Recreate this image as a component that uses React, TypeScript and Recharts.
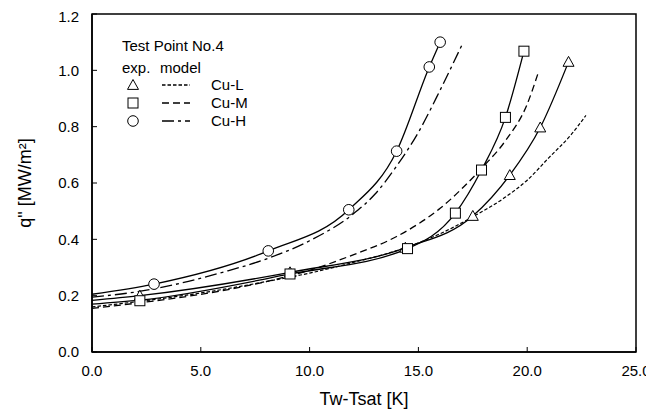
import React from 'react';
import {
  ComposedChart, Line, Scatter, XAxis, YAxis, ReferenceArea, Customized,
} from 'recharts';

const xTicks = [0, 5, 10, 15, 20, 25];
const yTicks = [0, 0.2, 0.4, 0.6, 0.8, 1.0, 1.2];

// experimental points
const cuLExp = [
  { x: 2.2, y: 0.2 }, { x: 9.1, y: 0.283 }, { x: 14.4, y: 0.37 },
  { x: 17.5, y: 0.483 }, { x: 19.2, y: 0.628 }, { x: 20.6, y: 0.797 }, { x: 21.9, y: 1.03 },
];
const cuMExp = [
  { x: 2.2, y: 0.182 }, { x: 9.1, y: 0.277 }, { x: 14.5, y: 0.367 },
  { x: 16.7, y: 0.493 }, { x: 17.9, y: 0.646 }, { x: 19.0, y: 0.833 }, { x: 19.85, y: 1.068 },
];
const cuHExp = [
  { x: 2.85, y: 0.241 }, { x: 8.1, y: 0.359 }, { x: 11.8, y: 0.505 },
  { x: 14.0, y: 0.713 }, { x: 15.5, y: 1.012 }, { x: 16.0, y: 1.1 },
];

// experimental fit curves (solid)
const cuLFit = [
  { x: 0, y: 0.183 }, { x: 2.2, y: 0.2 }, { x: 9.1, y: 0.283 }, { x: 14.4, y: 0.37 },
  { x: 17.5, y: 0.483 }, { x: 19.2, y: 0.628 }, { x: 20.6, y: 0.797 }, { x: 21.9, y: 1.03 },
];
const cuMFit = [
  { x: 0, y: 0.17 }, { x: 2.2, y: 0.184 }, { x: 9.1, y: 0.277 }, { x: 14.5, y: 0.367 },
  { x: 16.7, y: 0.493 }, { x: 17.9, y: 0.646 }, { x: 19.0, y: 0.833 }, { x: 19.85, y: 1.068 },
];
const cuHFit = [
  { x: 0, y: 0.205 }, { x: 2.85, y: 0.241 }, { x: 8.1, y: 0.359 }, { x: 11.8, y: 0.505 },
  { x: 14.0, y: 0.713 }, { x: 15.5, y: 1.012 }, { x: 16.0, y: 1.1 },
];

// model curves
const cuLModel = [
  { x: 0, y: 0.16 }, { x: 2, y: 0.178 }, { x: 4, y: 0.198 }, { x: 6, y: 0.222 },
  { x: 8, y: 0.25 }, { x: 10, y: 0.28 }, { x: 12, y: 0.318 }, { x: 14, y: 0.36 },
  { x: 16, y: 0.42 }, { x: 17.5, y: 0.48 }, { x: 19, y: 0.55 }, { x: 20, y: 0.61 },
  { x: 21, y: 0.69 }, { x: 22, y: 0.77 }, { x: 22.7, y: 0.84 },
];
const cuMModel = [
  { x: 0, y: 0.155 }, { x: 2, y: 0.173 }, { x: 4, y: 0.193 }, { x: 6, y: 0.218 },
  { x: 8, y: 0.25 }, { x: 10, y: 0.29 }, { x: 12, y: 0.345 }, { x: 14, y: 0.41 },
  { x: 15, y: 0.455 }, { x: 16, y: 0.51 }, { x: 17, y: 0.58 }, { x: 18, y: 0.66 },
  { x: 19, y: 0.75 }, { x: 20, y: 0.88 }, { x: 20.5, y: 0.99 },
];
const cuHModel = [
  { x: 0, y: 0.195 }, { x: 2, y: 0.213 }, { x: 4, y: 0.243 }, { x: 6, y: 0.283 },
  { x: 8, y: 0.33 }, { x: 10, y: 0.395 }, { x: 12, y: 0.49 }, { x: 13, y: 0.56 },
  { x: 14, y: 0.66 }, { x: 15, y: 0.78 }, { x: 16, y: 0.93 }, { x: 17, y: 1.09 },
];

const FONT = 'Liberation Sans, Arial, sans-serif';
const DASH_L = '3.5 2';
const DASH_M = '7 4';
const DASH_H = '12 4 3 4';

const Tri = (props: any) => {
  const { cx, cy } = props;
  const s = 5.5;
  return (
    <path d={`M${cx},${cy - s} L${cx + s},${cy + s * 0.8} L${cx - s},${cy + s * 0.8} Z`}
      fill="#fff" stroke="#000" strokeWidth={1} />
  );
};
const Sq = (props: any) => {
  const { cx, cy } = props;
  return <rect x={cx - 5} y={cy - 5} width={10} height={10} fill="#fff" stroke="#000" strokeWidth={1} />;
};
const Circ = (props: any) => {
  const { cx, cy } = props;
  return <circle cx={cx} cy={cy} r={5.3} fill="#fff" stroke="#000" strokeWidth={1} />;
};

const LegendBox = () => {
  const rows = [
    { y: 77, dash: DASH_L, label: 'Cu-L', shape: 'tri' },
    { y: 95, dash: DASH_M, label: 'Cu-M', shape: 'sq' },
    { y: 113, dash: DASH_H, label: 'Cu-H', shape: 'circ' },
  ];
  return (
    <g fontFamily={FONT} fontSize={15} fill="#000">
      <text x={114} y={43}>Test Point No.4</text>
      <text x={114} y={65}>exp.</text>
      <text x={152} y={65}>model</text>
      {rows.map((r) => (
        <g key={r.label}>
          {r.shape === 'tri' && <Tri cx={125} cy={r.y} />}
          {r.shape === 'sq' && <Sq cx={125} cy={r.y} />}
          {r.shape === 'circ' && <Circ cx={125} cy={r.y} />}
          <line x1={154} x2={182} y1={r.y} y2={r.y} stroke="#000" strokeWidth={1.3} strokeDasharray={r.dash} />
          <text x={203} y={r.y + 5}>{r.label}</text>
        </g>
      ))}
    </g>
  );
};

export default function App() {
  return (
    <ComposedChart width={646} height={408} margin={{ top: 6, right: 18, bottom: 0, left: 0 }}>
      <XAxis
        type="number" dataKey="x" domain={[0, 25]} ticks={xTicks} allowDataOverflow
        tickFormatter={(v: number) => v.toFixed(1)}
        tickSize={-5} tickMargin={18} height={64}
        axisLine={{ stroke: '#000', strokeWidth: 1.5 }} tickLine={{ stroke: '#000', strokeWidth: 1 }}
        tick={{ fill: '#000', fontSize: 15, fontFamily: FONT }}
        label={{ value: 'Tw-Tsat [K]', position: 'insideBottom', offset: 11, fill: '#000', fontSize: 18, fontFamily: FONT }}
      />
      <YAxis
        type="number" dataKey="y" domain={[0, 1.2]} ticks={yTicks} allowDataOverflow
        tickFormatter={(v: number) => v.toFixed(1)}
        tickSize={-5} tickMargin={18} width={84}
        axisLine={{ stroke: '#000', strokeWidth: 1.5 }} tickLine={{ stroke: '#000', strokeWidth: 1 }}
        tick={{ fill: '#000', fontSize: 15, fontFamily: FONT }}
        label={{ value: 'q" [MW/m²]', angle: -90, position: 'insideLeft', offset: 17, fill: '#000', fontSize: 18, fontFamily: FONT, style: { textAnchor: 'middle' } }}
      />
      <ReferenceArea x1={0} x2={25} y1={0} y2={1.2} fill="none" stroke="#000" strokeWidth={1.5} fillOpacity={0} />

      <Line data={cuLModel} dataKey="y" type="monotone" stroke="#000" strokeWidth={1.2} strokeDasharray={DASH_L} dot={false} activeDot={false} isAnimationActive={false} />
      <Line data={cuMModel} dataKey="y" type="monotone" stroke="#000" strokeWidth={1.3} strokeDasharray={DASH_M} dot={false} activeDot={false} isAnimationActive={false} />
      <Line data={cuHModel} dataKey="y" type="monotone" stroke="#000" strokeWidth={1.3} strokeDasharray={DASH_H} dot={false} activeDot={false} isAnimationActive={false} />

      <Line data={cuLFit} dataKey="y" type="monotone" stroke="#000" strokeWidth={1.3} dot={false} activeDot={false} isAnimationActive={false} />
      <Line data={cuMFit} dataKey="y" type="monotone" stroke="#000" strokeWidth={1.3} dot={false} activeDot={false} isAnimationActive={false} />
      <Line data={cuHFit} dataKey="y" type="monotone" stroke="#000" strokeWidth={1.3} dot={false} activeDot={false} isAnimationActive={false} />

      <Scatter data={cuLExp} dataKey="y" shape={Tri} isAnimationActive={false} />
      <Scatter data={cuMExp} dataKey="y" shape={Sq} isAnimationActive={false} />
      <Scatter data={cuHExp} dataKey="y" shape={Circ} isAnimationActive={false} />

      <Customized component={LegendBox} />
    </ComposedChart>
  );
}
